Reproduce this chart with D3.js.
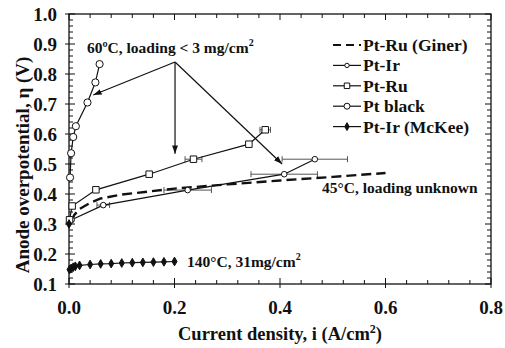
<!DOCTYPE html>
<html>
<head>
<meta charset="utf-8">
<script src="https://cdn.jsdelivr.net/npm/d3@7"></script>
<style>
  body { margin: 0; background: #fff; }
  svg text { font-family: "Liberation Serif", "DejaVu Serif", serif; font-weight: bold; fill: #111; }
</style>
</head>
<body>
<div id="chart"></div>
<script>
// data (x: A/cm2, y: V)
const xTicks = [0.0, 0.2, 0.4, 0.6, 0.8];
const yTicks = [0.1, 0.2, 0.3, 0.4, 0.5, 0.6, 0.7, 0.8, 0.9, 1.0];

const gx = [0.005, 0.01, 0.02, 0.04, 0.06, 0.1, 0.15, 0.2, 0.3, 0.4, 0.5, 0.6];
const gy = [0.31, 0.33, 0.35, 0.37, 0.385, 0.398, 0.408, 0.418, 0.432, 0.445, 0.457, 0.47];

const irX = [0.005, 0.065, 0.225, 0.408, 0.466];
const irY = [0.314, 0.363, 0.413, 0.466, 0.516];
const irErr = [0, 0.012, 0.045, 0.063, 0.062];

const ruX = [0.001, 0.006, 0.051, 0.152, 0.236, 0.341, 0.372];
const ruY = [0.314, 0.36, 0.414, 0.466, 0.516, 0.566, 0.614];
const ruErr = [0, 0, 0, 0, 0.016, 0, 0.01];

const blackX = [0.002, 0.004, 0.008, 0.013, 0.035, 0.05, 0.058];
const blackY = [0.455, 0.536, 0.59, 0.626, 0.705, 0.772, 0.833];

const mckeeX = [0.001, 0.004, 0.008, 0.012, 0.02, 0.04, 0.06, 0.08, 0.1, 0.12, 0.14, 0.16, 0.18, 0.2];
const mckeeY = [0.148, 0.152, 0.156, 0.159, 0.162, 0.165, 0.167, 0.168, 0.17, 0.171, 0.172, 0.173, 0.174, 0.175];

const originMark = [[0.0, 0.30]];

const legendNames = ["Pt-Ru (Giner)", "Pt-Ir", "Pt-Ru", "Pt black", "Pt-Ir (McKee)"];

// arrows from one apex point
const apex = [0.201, 0.84];
const arrowEnds = [[0.046, 0.73], [0.201, 0.534], [0.404, 0.50]];

const W = 505, H = 348;
const margin = { top: 14, right: 14, bottom: 64, left: 69 };

const svg = d3.select('#chart').append('svg')
  .attr('width', W)
  .attr('height', H);

const x = d3.scaleLinear().domain([0, 0.8]).range([margin.left, W - margin.right]);
const y = d3.scaleLinear().domain([0.1, 1.0]).range([H - margin.bottom, margin.top]);

const zip = (a, b) => a.map((v, i) => [v, b[i]]);

//frame
svg.append('rect')
  .attr('x', x(0)).attr('y', y(1.0))
  .attr('width', x(0.8) - x(0)).attr('height', y(0.1) - y(1.0))
  .attr('fill', 'none').attr('stroke', '#111').attr('stroke-width', 1.3);

//ticks: minor every 0.04 on x, 0.02 on y, drawn inward
const xMinor = d3.range(0, 0.8001, 0.04);
const yMinor = d3.range(0.1, 1.0001, 0.02);
const tickG = svg.append('g').attr('stroke', '#111').attr('stroke-width', 1);

xMinor.forEach(v => {
  const major = Math.abs(v * 5 - Math.round(v * 5)) < 1e-6;
  tickG.append('line').attr('x1', x(v)).attr('x2', x(v))
    .attr('y1', y(0.1) + (major ? 4 : 0)).attr('y2', y(0.1) - (major ? 6 : 4));
  tickG.append('line').attr('x1', x(v)).attr('x2', x(v))
    .attr('y1', y(1.0)).attr('y2', y(1.0) + (major ? 6 : 4));
});
yMinor.forEach(v => {
  const major = Math.abs(v * 10 - Math.round(v * 10)) < 1e-6;
  tickG.append('line').attr('y1', y(v)).attr('y2', y(v))
    .attr('x1', x(0) - (major ? 4 : 0)).attr('x2', x(0) + (major ? 6 : 4));
  tickG.append('line').attr('y1', y(v)).attr('y2', y(v))
    .attr('x1', x(0.8)).attr('x2', x(0.8) - (major ? 6 : 4));
});

//tick labels
svg.append('g').selectAll('text')
  .data(xTicks).join('text')
  .attr('x', d => x(d)).attr('y', y(0.1) + 30)
  .attr('text-anchor', 'middle')
  .style('font-size', '19px')
  .text(d => d.toFixed(1));

svg.append('g').selectAll('text')
  .data(yTicks).join('text')
  .attr('x', x(0) - 12).attr('y', d => y(d) + 6.5)
  .attr('text-anchor', 'end')
  .style('font-size', '19px')
  .text(d => d.toFixed(1));

//axis titles
const xt = svg.append('text')
  .attr('x', 280).attr('y', 340)
  .attr('text-anchor', 'middle')
  .style('font-size', '18.5px');
xt.append('tspan').text('Current density, i (A/cm');
xt.append('tspan').attr('dy', -7).style('font-size', '12px').text('2');
xt.append('tspan').attr('dy', 7).text(')');

svg.append('text')
  .attr('transform', 'translate(29,165) rotate(-90)')
  .attr('text-anchor', 'middle')
  .style('font-size', '19px')
  .text('Anode overpotential, η (V)');

const line = d3.line().x(d => x(d[0])).y(d => y(d[1]));

//error bars
function errorBars(xs, ys, errs) {
  const g = svg.append('g').attr('stroke', '#555').attr('stroke-width', 1);
  xs.forEach((v, i) => {
    if (!errs[i]) return;
    const x1 = x(v - errs[i]), x2 = x(v + errs[i]), yy = y(ys[i]);
    g.append('line').attr('x1', x1).attr('x2', x2).attr('y1', yy).attr('y2', yy);
    g.append('line').attr('x1', x1).attr('x2', x1).attr('y1', yy - 3).attr('y2', yy + 3);
    g.append('line').attr('x1', x2).attr('x2', x2).attr('y1', yy - 3).attr('y2', yy + 3);
  });
}
errorBars(irX, irY, irErr);
errorBars(ruX, ruY, ruErr);

//series lines
svg.append('path').datum(zip(gx, gy))
  .attr('d', line).attr('fill', 'none').attr('stroke', '#111')
  .attr('stroke-width', 2.4).attr('stroke-dasharray', '10,5');

[[irX, irY], [ruX, ruY], [blackX, blackY], [mckeeX, mckeeY]].forEach(s => {
  svg.append('path').datum(zip(s[0], s[1]))
    .attr('d', line).attr('fill', 'none').attr('stroke', '#111').attr('stroke-width', 1.2);
});

//markers
const circ = (r) => d3.symbol().type(d3.symbolCircle).size(Math.PI * r * r);
function marks(pts, sym, fill) {
  svg.append('g').selectAll('path')
    .data(pts).join('path')
    .attr('transform', d => `translate(${x(d[0])},${y(d[1])})`)
    .attr('d', sym)
    .attr('fill', fill).attr('stroke', '#111').attr('stroke-width', 1);
}
marks(zip(irX, irY), circ(2.8)(), '#fff');
marks(zip(ruX, ruY), d3.symbol().type(d3.symbolSquare).size(42)(), '#fff');
marks(zip(blackX, blackY), circ(3.6)(), '#fff');
marks(zip(mckeeX, mckeeY), d3.symbol().type(d3.symbolDiamond).size(22)(), '#111');
marks(originMark, d3.symbol().type(d3.symbolDiamond).size(22)(), '#111');

//arrows
svg.append('defs').append('marker')
  .attr('id', 'head').attr('viewBox', '0 0 10 10')
  .attr('refX', 10).attr('refY', 5)
  .attr('markerWidth', 7).attr('markerHeight', 7)
  .attr('orient', 'auto')
  .append('path').attr('d', 'M0,1.5L10,5L0,8.5z').attr('fill', '#111');

arrowEnds.forEach(e => {
  svg.append('line')
    .attr('x1', x(apex[0])).attr('y1', y(apex[1]))
    .attr('x2', x(e[0])).attr('y2', y(e[1]))
    .attr('stroke', '#111').attr('stroke-width', 1.2)
    .attr('marker-end', 'url(#head)');
});

//annotations
function note(px, py, txt, sup) {
  const t = svg.append('text').attr('x', px).attr('y', py).style('font-size', '15.5px');
  t.append('tspan').text(txt);
  if (sup) t.append('tspan').attr('dy', -7).style('font-size', '10px').text(sup);
}
note(87, 53, '60ºC, loading < 3 mg/cm', '2');
note(322, 193, '45°C, loading unknown');
note(187, 267, '140°C, 31mg/cm', '2');

//legend
const legende = svg.append('g').attr('transform', 'translate(333,45)');
const rows = legende.selectAll('g')
  .data(legendNames).join('g')
  .attr('transform', (d, i) => `translate(0,${i * 20.4})`);

rows.append('line')
  .attr('x1', 0).attr('x2', 28).attr('y1', 0).attr('y2', 0)
  .attr('stroke', '#111')
  .attr('stroke-width', (d, i) => i === 0 ? 2 : 1.2)
  .attr('stroke-dasharray', (d, i) => i === 0 ? '8,5' : null);

const legSyms = [null, circ(2.2)(), d3.symbol().type(d3.symbolSquare).size(30)(), circ(3)(), d3.symbol().type(d3.symbolDiamond).size(18)()];
rows.filter((d, i) => i > 0).append('path')
  .attr('transform', 'translate(14,0)')
  .attr('d', (d, i) => legSyms[i + 1])
  .attr('fill', (d, i) => i === 3 ? '#111' : '#fff')
  .attr('stroke', '#111');

rows.append('text')
  .attr('x', 30).attr('y', 6)
  .style('font-size', '17.5px')
  .text(d => d);
</script>
</body>
</html>
